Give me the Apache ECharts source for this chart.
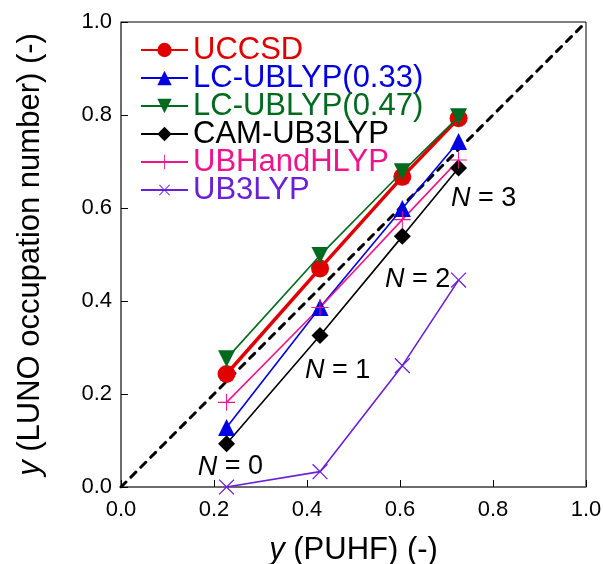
<!DOCTYPE html>
<html>
<head>
<meta charset="utf-8">
<script src="https://cdn.jsdelivr.net/npm/echarts@6/dist/echarts.min.js"></script>
<style>
  html, body { margin: 0; padding: 0; background: #fff; }
  #chart { width: 603px; height: 564px; }
</style>
</head>
<body>
<div id="chart"></div>
<script>
// PUHF diradical character for the four systems (N = 0..3)
const yPUHF = [0.227, 0.428, 0.605, 0.726];

// LUNO occupation numbers for each method
const uccsd      = [0.243, 0.470, 0.667, 0.793];
const lcUblyp033 = [0.128, 0.386, 0.599, 0.743];
const lcUblyp047 = [0.276, 0.498, 0.678, 0.796];
const camUb3lyp  = [0.093, 0.326, 0.539, 0.686];
const ubhandhlyp = [0.182, 0.386, 0.575, 0.703];
const ub3lyp     = [0.000, 0.033, 0.261, 0.445];

const seriesNames = ['UCCSD', 'LC-UBLYP(0.33)', 'LC-UBLYP(0.47)', 'CAM-UB3LYP', 'UBHandHLYP', 'UB3LYP'];
const tickValues = [0.0, 0.2, 0.4, 0.6, 0.8, 1.0];
const systemLabels = ['N = 0', 'N = 1', 'N = 2', 'N = 3'];

const FONT = '"Liberation Sans", Arial, Helvetica, sans-serif';
const PLUS = 'path://M9.4,0 L10.6,0 L10.6,9.4 L20,9.4 L20,10.6 L10.6,10.6 L10.6,20 L9.4,20 L9.4,10.6 L0,10.6 L0,9.4 L9.4,9.4 Z';

function pairs(vals) {
  return yPUHF.map((x, i) => [x, vals[i]]);
}

function mk(name, vals, color, symbol, size, width, extra) {
  return Object.assign({
    name: name,
    type: 'line',
    data: pairs(vals),
    symbol: symbol,
    symbolSize: size,
    showSymbol: true,
    animation: false,
    itemStyle: { color: color },
    lineStyle: { color: color, width: width },
    emphasis: { disabled: true }
  }, extra || {});
}

const chart = echarts.init(document.getElementById('chart'), null, { renderer: 'canvas' });

const legendColors = ['#e00000', '#0000e0', '#006a1e', '#000000', '#f0148c', '#6a1fd8'];
const tickFmt = v => tickValues.indexOf(Math.round(v * 10) / 10) >= 0 ? v.toFixed(1) : '';

// one legend row per series so the rows keep an even pitch
const legendRows = seriesNames.map((n, i) => ({
  orient: 'vertical',
  left: 140, top: 50 + i * 28 - 15.5, padding: 0,
  itemWidth: 47, itemHeight: 18,
  selectedMode: false,
  data: [{ name: n }],
  textStyle: { color: legendColors[i], fontFamily: FONT, fontSize: 31, lineHeight: 31 }
}));

chart.setOption({
  backgroundColor: '#ffffff',
  animation: false,
  grid: {
    left: 121, right: 17, top: 22, bottom: 77,
    outerBoundsMode: 'none',
    containLabel: false,
    show: true, borderColor: '#000', borderWidth: 1, backgroundColor: 'transparent'
  },
  xAxis: {
    type: 'value', min: 0, max: 1, interval: 0.2,
    name: '{i|y} (PUHF) (-)',
    nameLocation: 'middle', nameGap: 48,
    nameTextStyle: {
      fontFamily: FONT, fontSize: 31, color: '#000',
      rich: { i: { fontStyle: 'italic', fontFamily: FONT, fontSize: 31, color: '#000' } }
    },
    axisLine: { show: true, lineStyle: { color: '#666', width: 1.5 } },
    axisTick: { show: true, inside: true, length: 7, lineStyle: { color: '#000' } },
    axisLabel: {
      fontFamily: FONT, fontSize: 22, color: '#000', margin: 12,
      formatter: tickFmt
    },
    splitLine: { show: false }
  },
  yAxis: {
    type: 'value', min: 0, max: 1, interval: 0.2,
    name: '{i|y} (LUNO occupation number) (-)',
    nameLocation: 'middle', nameGap: 75,
    nameTextStyle: {
      fontFamily: FONT, fontSize: 31, color: '#000',
      rich: { i: { fontStyle: 'italic', fontFamily: FONT, fontSize: 31, color: '#000' } }
    },
    axisLine: { show: true, lineStyle: { color: '#666', width: 1.5 } },
    axisTick: { show: true, inside: true, length: 7, lineStyle: { color: '#000' } },
    axisLabel: {
      fontFamily: FONT, fontSize: 22, color: '#000', margin: 9,
      formatter: tickFmt
    },
    splitLine: { show: false }
  },
  legend: legendRows,
  series: [
    {
      name: 'diagonal', type: 'line',
      data: [[0, 0], [1, 1]],
      symbol: 'none', silent: true, z: 1,
      lineStyle: { color: '#000', width: 3, type: [7, 7], cap: 'round' }
    },
    mk('UCCSD', uccsd, '#e00000', 'circle', 18, 3.5, { z: 3 }),
    mk('LC-UBLYP(0.33)', lcUblyp033, '#0000e0', 'triangle', 17, 1.6, { z: 2 }),
    mk('LC-UBLYP(0.47)', lcUblyp047, '#006a1e', 'triangle', 17, 1.6, { z: 4, symbolRotate: 180 }),
    mk('CAM-UB3LYP', camUb3lyp, '#000000', 'diamond', 17, 1.6, { z: 2 }),
    mk('UBHandHLYP', ubhandhlyp, '#f0148c', PLUS, 17, 1.6, { z: 2 }),
    mk('UB3LYP', ub3lyp, '#6a1fd8', PLUS, 21, 1.6, { z: 2, symbolRotate: 45 })
  ]
});

// system labels placed next to each group of points
const labelAnchors = [[0.235, 0.043], [0.466, 0.251], [0.638, 0.447], [0.78, 0.62]];
const graphics = labelAnchors.map((a, i) => {
  const p = chart.convertToPixel({ gridIndex: 0 }, a);
  const txt = systemLabels[i].replace('N', '{i|N}');
  return {
    type: 'text', x: p[0], y: p[1], z: 10,
    style: {
      text: txt, fill: '#000', font: '27px ' + FONT,
      align: 'center', verticalAlign: 'middle',
      rich: { i: { fontStyle: 'italic', fontFamily: FONT, fontSize: 27, fill: '#000' } }
    }
  };
});
chart.setOption({ graphic: graphics });
</script>
</body>
</html>
